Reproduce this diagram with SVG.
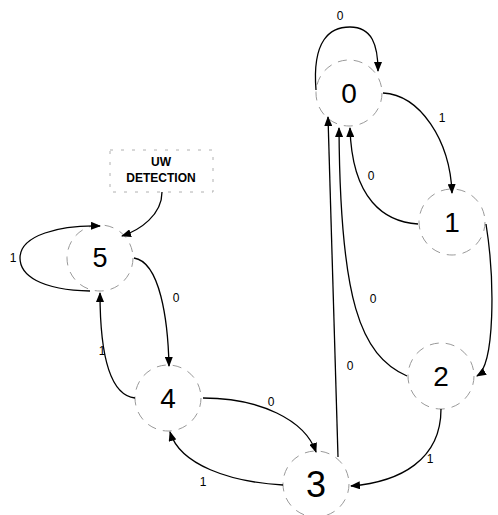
<svg xmlns="http://www.w3.org/2000/svg" width="498" height="515" viewBox="0 0 498 515">
<style>
.st{fill:#fff;stroke:#9a9a9a;stroke-width:1;stroke-dasharray:9 7}
.nl{font-family:"Liberation Sans",Arial,sans-serif;font-size:28px;fill:#000;text-anchor:middle}
.el{font-family:"Liberation Sans",Arial,sans-serif;font-size:12px;fill:#000;text-anchor:middle}
.bx{fill:#fff;stroke:#b0b0b0;stroke-width:1;stroke-dasharray:3 8}
.bt{font-family:"Liberation Sans",Arial,sans-serif;font-size:12px;font-weight:bold;fill:#000;text-anchor:middle}
.cn{fill:none;stroke:#000;stroke-width:1.3;marker-end:url(#ah)}
</style>
<defs>
<marker id="ah" markerWidth="10" markerHeight="8" refX="9" refY="4" orient="auto" markerUnits="userSpaceOnUse">
<path d="M0,0 L10,4 L0,8 Z" fill="#000"/>
</marker>
</defs>
<g id="n0"><circle class="st" cx="349" cy="93" r="33"/><text class="nl" x="349" y="103">0</text></g>
<g id="n1"><circle class="st" cx="452" cy="222" r="33"/><text class="nl" x="452" y="232">1</text></g>
<g id="n2"><circle class="st" cx="441" cy="376" r="33"/><text class="nl" x="441" y="386">2</text></g>
<g id="n3"><circle class="st" cx="316" cy="484" r="33"/><text class="nl" x="316" y="497" style="font-size:36px">3</text></g>
<g id="n4"><circle class="st" cx="168" cy="398" r="33"/><text class="nl" x="168" y="408">4</text></g>
<g id="n5"><circle class="st" cx="100" cy="258" r="33"/><text class="nl" x="100" y="267" style="font-size:27px">5</text></g>
<g id="uw"><rect class="bx" x="110" y="150" width="103" height="42"/><text class="bt" x="161" y="166">UW</text><text class="bt" x="161" y="182">DETECTION</text></g>
<g id="connectors">
<path class="cn" d="M316,90 C312,40 330,27 350,27 C372,27 378,45 378,71"/>
<path class="cn" d="M383,93 C420,95 450,140 452,193"/>
<path class="cn" d="M418,224 C385,222 352,200 350,128"/>
<path class="cn" d="M407,376 C360,355 340,300 339,128"/>
<path class="cn" d="M338,457 L328,117"/>
<path class="cn" d="M486,224 C495,280 495,365 477,376"/>
<path class="cn" d="M441,409 C441,460 400,482 351,486"/>
<path class="cn" d="M283,485 C230,482 180,465 170,432"/>
<path class="cn" d="M203,398 C260,398 305,420 316,452"/>
<path class="cn" d="M135,398 C108,395 100,350 100,293"/>
<path class="cn" d="M134,258 C160,262 168,320 169,366"/>
<path class="cn" d="M90,291 C40,290 20,275 20,258 C20,235 60,225 100,226"/>
<path class="cn" d="M162,192 C162,215 140,230 122,236"/>
<text class="el" x="340" y="20">0</text>
<text class="el" x="442" y="122">1</text>
<text class="el" x="371" y="180">0</text>
<text class="el" x="373" y="303">0</text>
<text class="el" x="350" y="370">0</text>
<text class="el" x="430" y="463">1</text>
<text class="el" x="271" y="406">0</text>
<text class="el" x="203" y="486">1</text>
<text class="el" x="102" y="355">1</text>
<text class="el" x="176" y="302">0</text>
<text class="el" x="13" y="262">1</text>
</g>
</svg>
